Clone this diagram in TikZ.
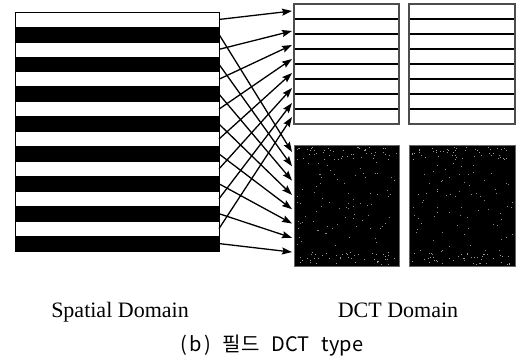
\documentclass[tikz,border=0pt]{standalone}
\usepackage{fontspec}
\setmainfont{Liberation Serif}
\newfontfamily\krfont{Noto Sans CJK KR}
\usetikzlibrary{arrows.meta}

\begin{document}
\begin{tikzpicture}[x=1pt,y=-1pt,
  map/.style={-{Stealth[length=10pt,width=7pt,inset=1.5pt]}, line width=1.3pt},
  label/.style={anchor=base, font=\fontsize{22}{26}\selectfont}]
\useasboundingbox (0,0) rectangle (525,364);

\def\xl{15}
\def\xr{219}
\def\yt{12}
\def\h{14.94}

\def\xa{294}
\def\xb{399}
\def\xc{409}
\def\xd{515}

\def\ya{4}
\def\yb{124}
\def\yc{145}
\def\yd{266}

% spatial domain: 16 lines, top field white, bottom field black
\foreach \i in {0,2,...,14}
  \filldraw[fill=white, draw=black, line width=0.6pt] (\xl,\yt+\i*\h) rectangle (\xr,\yt+\i*\h+\h);
\foreach \i in {1,3,...,15}
  \filldraw[fill=black, draw=black, line width=0.6pt] (\xl,\yt+\i*\h) rectangle (\xr,\yt+\i*\h+\h);

\foreach \i in {0,...,15}
  \coordinate (s\i) at (\xr,\yt+\i*\h+\h/2);

% DCT domain, top: 8 rows per block
\foreach \x/\xx in {\xa/\xb, \xc/\xd} {
  \foreach \j in {1,...,7}
    \draw[line width=1.5pt] (\x,\ya+\j*15) -- (\xx,\ya+\j*15);
  \draw[black!70, line width=1.3pt] (\x,\ya) rectangle (\xx,\yb);
}

% DCT domain, bottom: dark blocks
\pgfmathsetseed{11}
\foreach \x/\xx in {\xa/\xb, \xc/\xd} {
  \filldraw[fill=black, draw=black!60, line width=1pt] (\x,\yc) rectangle (\xx,\yd);
  \foreach \n in {1,...,90}
    \fill[black!45] ({\x+2+rnd*(\xx-\x-4)},{\yc+2+rnd*(\yd-\yc-4)}) rectangle +(1,1);
  \foreach \n in {1,...,40} {
    \fill[black!40] ({\x+2+rnd*(\xx-\x-4)},{\yc+2+rnd*12}) rectangle +(1,1);
    \fill[black!40] ({\x+2+rnd*(\xx-\x-4)},{\yd-14+rnd*12}) rectangle +(1,1);
  }
}

\foreach \ty [count=\k from 0] in {11,31,45,59,73,88,103,117}
  \coordinate (r\k) at (\xa-2,\ty);
\foreach \k in {0,...,7}
  \coordinate (q\k) at (\xa-2,152+\k*14.3);

% white lines -> top, black lines -> bottom
\foreach \k in {0,...,7} {
  \pgfmathtruncatemacro\w{2*\k}
  \pgfmathtruncatemacro\b{2*\k+1}
  \draw[map] (s\w) -- (r\k);
  \draw[map] (s\b) -- (q\k);
}

\node[label] (spatial) at (120,317) {Spatial Domain};
\node[label] (dct) at (398,317) {DCT Domain};
\node[font=\krfont\fontsize{20}{24}\selectfont] (cap) at (272,346)
  {(\hspace{2pt}b\hspace{2pt})\hspace{12pt}필드\hspace{12pt}DCT\hspace{12pt}type};

\end{tikzpicture}
\end{document}
